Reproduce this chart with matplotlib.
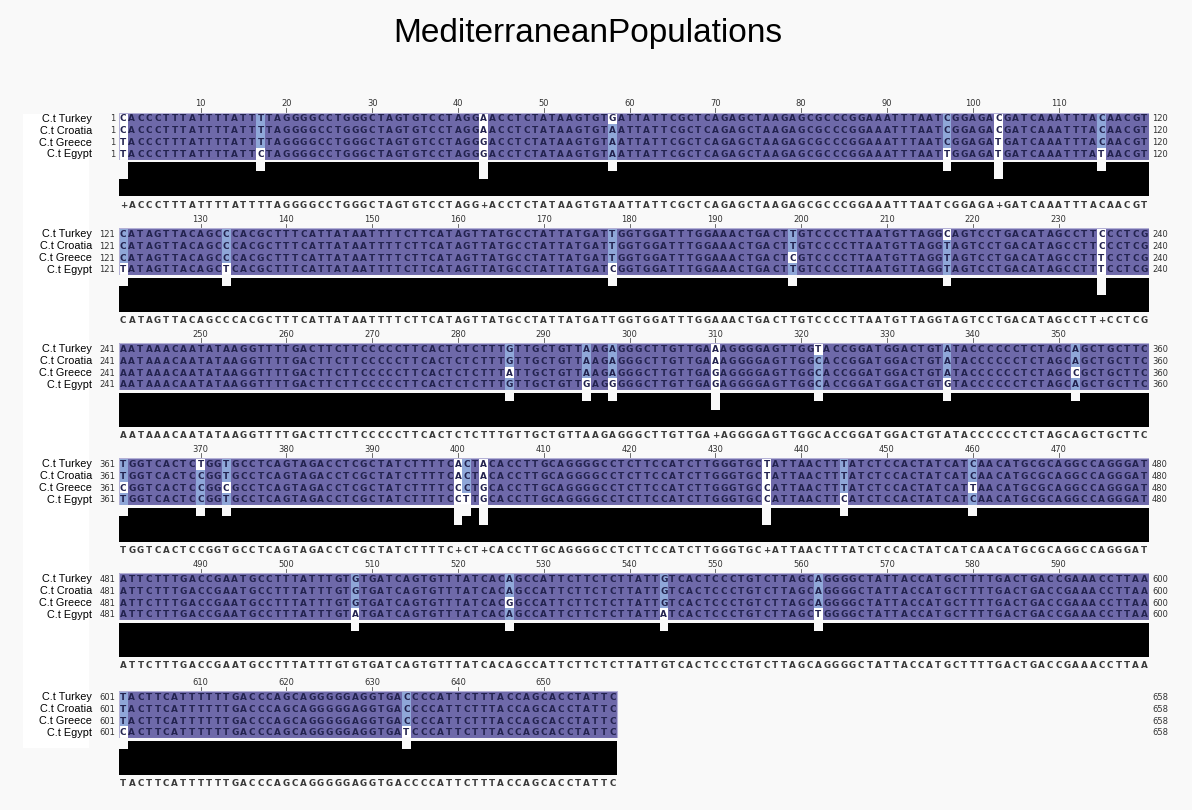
import matplotlib
matplotlib.use("Agg")
import matplotlib.pyplot as plt
import numpy as np
from matplotlib.colors import ListedColormap
from matplotlib.patches import Rectangle

title = "MediterraneanPopulations"
species = ["C.t Turkey", "C.t Croatia", "C.t Greece", "C.t Egypt"]

# consensus rows as printed under each block ('+' = tie)
consensus_rows = [
    "+ACCCTTTATTTTATTTTAGGGGCCTGGGCTAGTGTCCTAGG+ACCTCTATAAGTGTAATTATTCGCTCAGAGCTAAGAGCGCCCGGAAATTTAATCGGAGA+GATCAAATTTACAACGT",
    "CATAGTTACAGCCCACGCTTTCATTATAATTTTCTTCATAGTTATGCCTATTATGATTGGTGGATTTGGAAACTGACTTGTCCCCTTAATGTTAGGTAGTCCTGACATAGCCTT+CCTCG",
    "AATAAACAATATAAGGTTTTGACTTCTTCCCCCTTCACTCTCTTTGTTGCTGTTAAGAGGGCTTGTTGA+AGGGGAGTTGGCACCGGATGGACTGTATACCCCCCTCTAGCAGCTGCTTC",
    "TGGTCACTCCGGTGCCTCAGTAGACCTCGCTATCTTTTC+CT+CACCTTGCAGGGGCCTCTTCCATCTTGGGTGC+ATTAACTTTATCTCCACTATCATCAACATGCGCAGGCCAGGGAT",
    "ATTCTTTGACCGAATGCCTTTATTTGTGTGATCAGTGTTTATCACAGCCATTCTTCTCTTATTGTCACTCCCTGTCTTAGCAGGGGCTATTACCATGCTTTTGACTGACCGAAACCTTAA",
    "TACTTCATTTTTTGACCCAGCAGGGGGAGGTGACCCCATTCTTTACCAGCACCTATTC",
]

# variable columns: position -> bases for Turkey, Croatia, Greece, Egypt
variants = {
    1: "CCTT", 17: "TTTC", 43: "AAGG", 58: "GAAA", 97: "CCCT", 103: "CCTT",
    115: "CCCT", 121: "CCCT", 133: "CCCT", 178: "TTTC", 199: "TTCT",
    217: "CTTT", 235: "CCTT", 286: "GGAG", 295: "AAAG", 298: "AAAG",
    310: "AAGG", 322: "TCCC", 337: "AAAG", 352: "AACA", 361: "TTCT",
    370: "TCCC", 373: "TTCT", 400: "AACC", 401: "CCCT", 403: "AAGG",
    436: "TTCC", 445: "TTTC", 460: "CCTC", 508: "GGGA", 526: "AAGA",
    544: "GGGA", 562: "AAAT", 601: "TTTC", 634: "CCCT",
}

block_len = 120
seq_len = 658

# build the four sequences
base = list("".join(consensus_rows))
seqs = [list(base) for _ in species]
for pos, bases in variants.items():
    for s in range(len(species)):
        seqs[s][pos - 1] = bases[s]
seqs = np.array(seqs)

# per-column identity and colour class
frac = np.zeros(seq_len)
cls = np.zeros((len(species), seq_len))
for j in range(seq_len):
    col = list(seqs[:, j])
    counts = {b: col.count(b) for b in set(col)}
    top = max(counts.values())
    frac[j] = top / len(species)
    winners = [b for b, c in counts.items() if c == top]
    for s in range(len(species)):
        if top == len(species):
            cls[s, j] = 2
        elif len(winners) == 1 and col[s] == winners[0]:
            cls[s, j] = 1
        else:
            cls[s, j] = 0

W, H = 1192, 810
fig = plt.figure(figsize=(W / 100, H / 100), dpi=100, facecolor="#f9f9f9")

def fx(px):
    return px / W

def fy(py):
    return 1 - py / H

def add_px_axes(left, top, width, height):
    return fig.add_axes([left / W, 1 - (top + height) / H, width / W, height / H])

# white id panel behind the names
fig.patches.append(Rectangle((fx(23), fy(748)), fx(89) - fx(23), fy(114) - fy(748),
                             transform=fig.transFigure, facecolor="white",
                             edgecolor="none", zorder=-5))

fig.text(fx(588), fy(42), title, ha="center", va="baseline", fontsize=24,
         family="Liberation Sans", color="black")

purple = "#6e69a9"
light = "#8fa7d8"
cmap = ListedColormap(["white", light, purple])
seq_font = dict(family="DejaVu Sans", fontsize=6.4, fontweight="bold", color="#23234f")

x0 = 119
pitch = 8.58
row_h = 11.8
tops = [104, 219.5, 334.5, 449.5, 564.5, 682.5]

for b, T in enumerate(tops):
    start = b * block_len
    stop = min(start + block_len, seq_len)
    n = stop - start
    positions = np.arange(start + 1, stop + 1)

    ax = add_px_axes(x0, T + 8.5, block_len * pitch, 4 * row_h)
    ax.set_xlim(start + 0.5, start + block_len + 0.5)
    ax.set_ylim(4, 0)
    ax.axis("off")
    ax.pcolormesh(np.arange(start + 0.5, stop + 1), np.arange(5), cls[:, start:stop],
                  cmap=cmap, vmin=0, vmax=2)
    ax.add_patch(Rectangle((start + 0.5, 0), n, 4, facecolor="none",
                           edgecolor="#b4b1d6", linewidth=0.8))
    for s in range(len(species)):
        for j, p in enumerate(positions):
            ax.text(p, s + 0.55, seqs[s, p - 1], ha="center", va="center", **seq_font)
        ax.text(start + 0.5 - 4 / pitch, s + 0.55, str(start + 1), ha="right", va="center",
                fontsize=6, family="DejaVu Sans", color="#333333")
        ax.text(start + block_len + 0.5 + 3.5 / pitch, s + 0.55, str(stop), ha="left",
                va="center", fontsize=6, family="DejaVu Sans", color="#333333")
        ax.text(start + 0.5 - 27 / pitch, s + 0.55, species[s], ha="right", va="center",
                fontsize=7.8, family="Liberation Sans", color="black")
    for t in positions[(positions % 10 == 0) & (positions < start + block_len)]:
        ax.text(t, -8.5 / row_h, str(t), ha="center", va="center", fontsize=6,
                family="DejaVu Sans", color="#333333")
        ax.plot([t, t], [-4.5 / row_h, -1.0 / row_h], color="#555555", lw=0.6, clip_on=False)

    cax = add_px_axes(x0, T + 58, block_len * pitch, 34)
    cax.set_xlim(start + 0.5, start + block_len + 0.5)
    cax.set_ylim(0, 1)
    cax.axis("off")
    cax.stairs(frac[start:stop], np.arange(start + 0.5, stop + 1), fill=True,
               color="black", baseline=0)
    cons = consensus_rows[b]
    for j, p in enumerate(positions):
        cax.text(p, -9 / 34, cons[j], ha="center", va="center", family="DejaVu Sans",
                 fontsize=6.3, fontweight="bold", color="#3a3a3a", clip_on=False)

fig.savefig("out.png", dpi=100, facecolor=fig.get_facecolor())
